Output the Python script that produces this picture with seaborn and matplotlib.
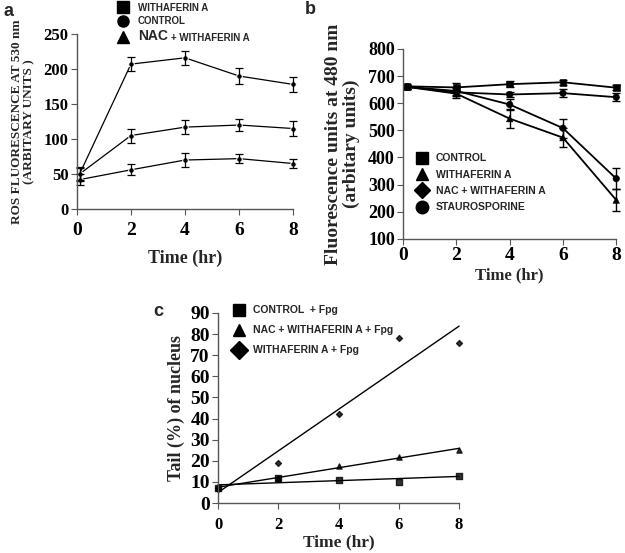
import numpy as np
import pandas as pd
import matplotlib
matplotlib.use("Agg")
import matplotlib.pyplot as plt
from matplotlib.lines import Line2D
import seaborn as sns

sns.set_theme(style="ticks")
plt.rcParams['font.family'] = ['Liberation Serif', 'DejaVu Serif']
plt.rcParams['font.weight'] = 'bold'

# ---------------- data ----------------
# Panel a: ROS fluorescence
time_a = [0.1, 2, 4, 6, 8]
a_withaferin = [50, 207, 216, 190, 178]
a_withaferin_err = [10, 10, 10, 11, 11]
a_nac = [50, 105, 117, 120, 115]
a_nac_err = [9, 10, 10, 9, 11]
a_control = [42, 56, 70, 72, 65]
a_control_err = [8, 8, 10, 6, 7]

# Panel b: fluorescence at 480 nm
time_b = [0.15, 2, 4, 6, 8]
b_control = [662, 658, 670, 677, 657]
b_control_err = [8, 18, 10, 10, 10]
b_nac = [660, 640, 632, 637, 622]
b_nac_err = [8, 15, 10, 15, 15]
b_stauro = [660, 645, 595, 508, 322]
b_stauro_err = [8, 15, 20, 35, 40]
b_withaferin = [660, 635, 543, 473, 243]
b_withaferin_err = [8, 15, 35, 35, 40]

# Panel c: comet tail
time_c = [0, 2, 4, 6, 8]
c_control = [7, 12, 11, 10, 13]
c_nac = [7, 12, 17.5, 22, 25]
c_withaferin = [7, 19, 42, 78, 76]

W, H = 625, 553
fig = plt.figure(figsize=(W / 100, H / 100), dpi=100)

leg_font = dict(family='Liberation Sans', weight='bold')

def style_axes(ax, ysize, xsize, xpad=2):
    sns.despine(ax=ax)
    for s in ['left', 'bottom']:
        ax.spines[s].set_color('#555555')
        ax.spines[s].set_linewidth(1.0)
    ax.tick_params(axis='both', direction='out', length=4, width=0.8, colors='#555555', pad=2)
    ax.tick_params(axis='x', pad=xpad)
    for lab in ax.get_yticklabels():
        lab.set_fontsize(ysize); lab.set_fontfamily('Liberation Serif'); lab.set_fontweight('bold'); lab.set_color('black')
    for lab in ax.get_xticklabels():
        lab.set_fontsize(xsize); lab.set_fontfamily('Liberation Serif'); lab.set_fontweight('bold'); lab.set_color('black')

# ---------------- panel a ----------------
axa = fig.add_axes([0.123, 0.622, 0.346, 0.3165])
dfa = pd.DataFrame({
    'time': time_a * 3,
    'value': a_withaferin + a_nac + a_control,
    'err': a_withaferin_err + a_nac_err + a_control_err,
    'series': ['WITHAFERIN A'] * 5 + ['NAC + WITHAFERIN A'] * 5 + ['CONTROL'] * 5,
})
sns.lineplot(data=dfa, x='time', y='value', units='series', estimator=None,
             color='black', lw=0.9, marker='o', markersize=4, ax=axa, legend=False)
for name, g in dfa.groupby('series'):
    axa.errorbar(g['time'], g['value'], yerr=g['err'], fmt='none', ecolor='black',
                 elinewidth=0.9, capsize=3, capthick=0.9, clip_on=False)
axa.set_xlim(0, 8)
axa.set_ylim(0, 250)
axa.set_xticks([0, 2, 4, 6, 8])
axa.set_yticks(range(0, 251, 50))
style_axes(axa, 12, 14, xpad=5)
axa.set_xlabel('Time (hr)', fontsize=13, fontweight='bold', labelpad=8)
axa.set_ylabel('ROS FLUORESCENCE AT 530 nm\n(ARBITARY UNITS )', fontsize=9.5, fontweight='bold',
               labelpad=6, linespacing=1.0)
for l in axa.lines:
    l.set_clip_on(False)

# ---------------- panel b ----------------
axb = fig.add_axes([0.645, 0.568, 0.341, 0.3436])
dfb = pd.DataFrame({
    'time': time_b * 4,
    'value': b_control + b_nac + b_stauro + b_withaferin,
    'err': b_control_err + b_nac_err + b_stauro_err + b_withaferin_err,
    'series': ['CONTROL'] * 5 + ['NAC + WITHAFERIN A'] * 5 + ['STAUROSPORINE'] * 5 + ['WITHAFERIN A'] * 5,
})
bmarkers = {'CONTROL': 's', 'NAC + WITHAFERIN A': 'o', 'STAUROSPORINE': 'o', 'WITHAFERIN A': '^'}
sns.lineplot(data=dfb, x='time', y='value', units='series', estimator=None,
             color='black', lw=1.3, ax=axb, legend=False)
sns.scatterplot(data=dfb, x='time', y='value', style='series', markers=bmarkers,
                color='black', s=22, edgecolor='black', ax=axb, legend=False, clip_on=False)
for name, g in dfb.groupby('series'):
    axb.errorbar(g['time'], g['value'], yerr=g['err'], fmt='none', ecolor='black',
                 elinewidth=1.0, capsize=3, capthick=1.0, clip_on=False)
axb.set_xlim(0, 8)
axb.set_ylim(100, 800)
axb.set_xticks([0, 2, 4, 6, 8])
axb.set_yticks(range(100, 801, 100))
style_axes(axb, 13, 14)
axb.set_xlabel('Time (hr)', fontsize=12, fontweight='bold', labelpad=2)
axb.set_ylabel('Fluorescence units at 480 nm\n(arbitary units)', fontsize=14, fontweight='bold',
               labelpad=6, linespacing=1.0)
for l in axb.lines:
    l.set_clip_on(False)

# ---------------- panel c ----------------
axc = fig.add_axes([0.349, 0.0904, 0.3856, 0.3436])
dfc = pd.DataFrame({
    'time': time_c * 3,
    'value': c_control + c_nac + c_withaferin,
    'series': ['CONTROL + Fpg'] * 5 + ['NAC + WITHAFERIN A + Fpg'] * 5 + ['WITHAFERIN A + Fpg'] * 5,
})
cmarkers = {'CONTROL + Fpg': 's', 'NAC + WITHAFERIN A + Fpg': '^', 'WITHAFERIN A + Fpg': 'D'}
csizes = {'CONTROL + Fpg': 14, 'NAC + WITHAFERIN A + Fpg': 14, 'WITHAFERIN A + Fpg': 9}
for name, g in dfc.groupby('series'):
    sns.regplot(data=g, x='time', y='value', ci=None, marker=cmarkers[name], color='black',
                scatter_kws=dict(s=csizes[name], clip_on=False), line_kws=dict(lw=1.0),
                truncate=True, ax=axc)
axc.set_xlim(0, 8)
axc.set_ylim(0, 90)
axc.set_xticks([0, 2, 4, 6, 8])
axc.set_yticks(range(0, 91, 10))
style_axes(axc, 14, 12, xpad=6)
axc.set_xlabel('Time (hr)', fontsize=12.5, fontweight='bold', labelpad=1)
axc.set_ylabel('Tail (%) of nucleus', fontsize=13, fontweight='bold', labelpad=4)
for l in axc.lines:
    l.set_clip_on(False)
for c in axc.collections:
    c.set_clip_on(False)

# ---------------- legends ----------------
def handle(m, ms=9):
    return Line2D([], [], marker=m, color='black', linestyle='none', markersize=ms)

lega = fig.legend([handle('s', 8), handle('o', 8), handle('^', 8)],
                  ['WITHAFERIN A', 'CONTROL', 'NAC'],
                  loc='upper left', bbox_to_anchor=(0.182, 1.004), frameon=False,
                  prop=dict(family='Liberation Sans', weight='bold', size=7),
                  handlelength=1.0, handletextpad=1.0, labelspacing=0.35, borderpad=0)
lega.get_texts()[2].set_fontsize(10)

legb = fig.legend([handle('s'), handle('^'), handle('D', 8), handle('o')],
                  ['CONTROL', 'WITHAFERIN A', 'NAC + WITHAFERIN A', 'STAUROSPORINE'],
                  loc='upper left', bbox_to_anchor=(0.659, 0.732), frameon=False,
                  prop=dict(family='Liberation Sans', weight='bold', size=7.5),
                  handlelength=1.0, handletextpad=0.8, labelspacing=0.6, borderpad=0)

legc = fig.legend([handle('s'), handle('^'), handle('D')],
                  ['CONTROL  + Fpg', 'NAC + WITHAFERIN A + Fpg', 'WITHAFERIN A + Fpg'],
                  loc='upper left', bbox_to_anchor=(0.365, 0.457), frameon=False,
                  prop=dict(family='Liberation Sans', weight='bold', size=7.5),
                  handlelength=1.0, handletextpad=0.9, labelspacing=0.95, borderpad=0)

fig.canvas.draw()
r = fig.canvas.get_renderer()
bb = lega.get_texts()[2].get_window_extent(r)
fig.text((bb.x1 + 3) / W, (bb.y0 + 2) / H, '+ WITHAFERIN A', fontsize=7, **leg_font)

# panel letters
fig.text(0.005, 0.995, 'a', fontsize=13, va='top', **leg_font)
fig.text(0.487, 0.998, 'b', fontsize=13, va='top', **leg_font)
fig.text(0.245, 0.452, 'c', fontsize=13, va='top', **leg_font)

fig.savefig('out.png', dpi=100)
